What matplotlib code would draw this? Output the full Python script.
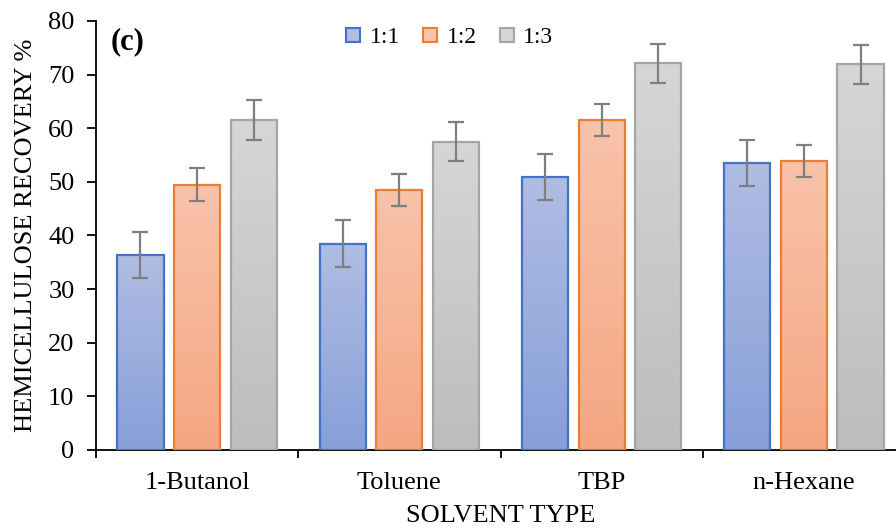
import numpy as np
import matplotlib
matplotlib.use("Agg")
import matplotlib.pyplot as plt
from matplotlib.colors import LinearSegmentedColormap
from matplotlib.ticker import FixedLocator
from matplotlib.patches import Patch

plt.rcParams['font.family'] = ['Liberation Serif', 'DejaVu Serif']

solvents = ["1-Butanol", "Toluene", "TBP", "n-Hexane"]
ratios = ["1:1", "1:2", "1:3"]
rec_11 = [36.4, 38.5, 50.9, 53.6]
rec_12 = [49.5, 48.5, 61.5, 53.9]
rec_13 = [61.6, 57.5, 72.1, 71.9]
err_11 = [4.3, 4.3, 4.3, 4.3]
err_12 = [3.0, 3.0, 3.0, 3.0]
err_13 = [3.7, 3.7, 3.7, 3.7]
y_ticks = [0, 10, 20, 30, 40, 50, 60, 70, 80]

series = [rec_11, rec_12, rec_13]
errors = [err_11, err_12, err_13]
edge_cols = ["#4472c4", "#ed7d31", "#a5a5a5"]
top_cols = ["#b0bde3", "#f8c3ab", "#d6d6d6"]
bot_cols = ["#879fd8", "#f5a682", "#bdbdbd"]

fig = plt.figure(figsize=(8.96, 5.31), dpi=100)
ax = fig.add_axes([96/896, 81/531, 809/896, 429/531])

x = np.arange(len(solvents))
width = 0.228
spacing = 0.28
grad = np.linspace(0, 1, 256).reshape(-1, 1)

for i, (vals, errs) in enumerate(zip(series, errors)):
    pos = x + (i - 1) * spacing
    bars = ax.bar(pos, vals, width, facecolor="none", edgecolor=edge_cols[i],
                  linewidth=1.6, label=ratios[i], zorder=3)
    cmap = LinearSegmentedColormap.from_list("g%d" % i, [bot_cols[i], top_cols[i]])
    for b in bars:
        x0, y0 = b.get_x(), b.get_y()
        w, h = b.get_width(), b.get_height()
        im = ax.imshow(grad, cmap=cmap, origin="lower", aspect="auto",
                       extent=(x0, x0 + w, y0, y0 + h), zorder=2)
        im.set_clip_path(b)
    ax.errorbar(pos, vals, yerr=errs, fmt="none", ecolor="#7f7f7f",
                elinewidth=1.6, capsize=6, capthick=1.6, zorder=4)

ax.set_xlim(-0.5, 3.5)
ax.set_ylim(0, 80)
ax.set_yticks(y_ticks)
ax.set_xticks(x)
ax.set_xticklabels(solvents)
ax.xaxis.set_minor_locator(FixedLocator(np.arange(-0.5, 4.0, 1.0)))
ax.tick_params(axis="x", which="major", length=0, pad=16, labelsize=19)
ax.tick_params(axis="x", which="minor", length=6, width=1.3, direction="out")
ax.tick_params(axis="y", length=6.5, width=1.3, direction="out", labelsize=19, pad=9)
for s in ["top", "right"]:
    ax.spines[s].set_visible(False)
for s in ["left", "bottom"]:
    ax.spines[s].set_linewidth(1.3)

ax.set_ylabel("HEMICELLULOSE RECOVERY %", fontsize=19, labelpad=8)
ax.set_xlabel("SOLVENT TYPE", fontsize=19, labelpad=8)
ax.text(0.018, 0.985, "(c)", transform=ax.transAxes, fontsize=22,
        fontweight="bold", va="top", ha="left")

hs = [Patch(facecolor=top_cols[i], edgecolor=edge_cols[i], linewidth=1.5) for i in range(3)]
ax.legend(hs, ratios, loc="upper center", bbox_to_anchor=(0.4375, 1.035), ncol=3,
          frameon=False, fontsize=17, handlelength=0.58, handleheight=0.58,
          handletextpad=0.4, columnspacing=1.0)

fig.savefig("out.png", dpi=100)
